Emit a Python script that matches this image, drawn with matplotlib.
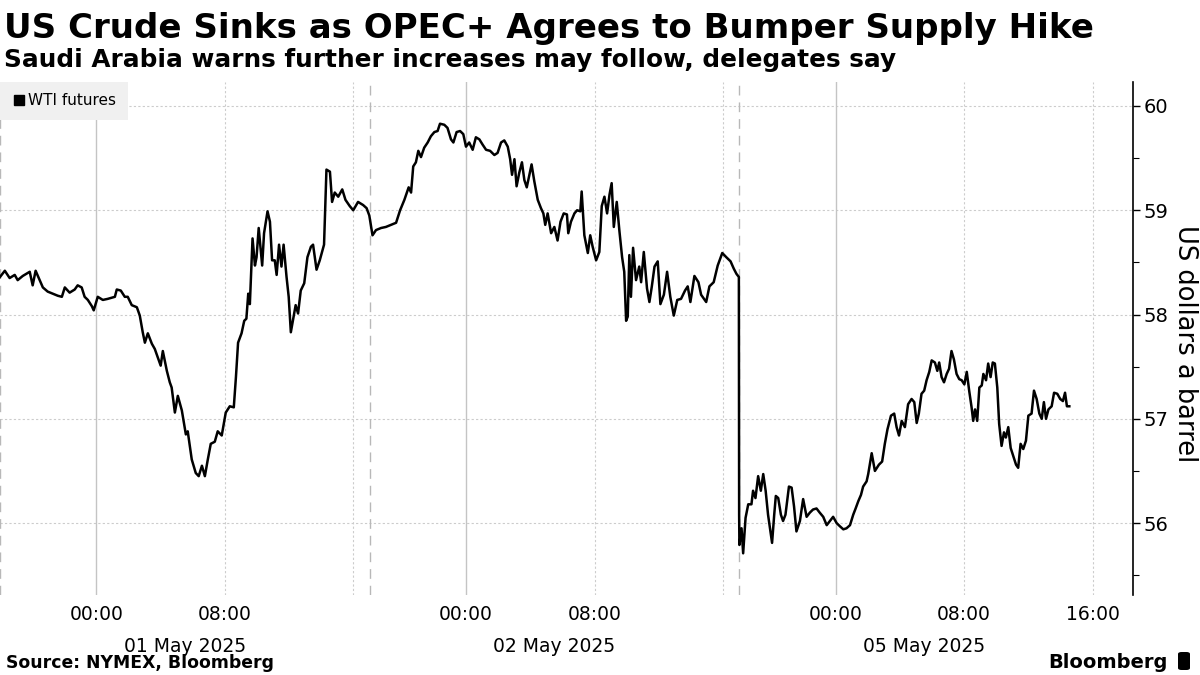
import matplotlib
matplotlib.use("Agg")
import matplotlib.pyplot as plt
from matplotlib.lines import Line2D
from matplotlib.patches import FancyBboxPatch
import matplotlib.transforms as mtransforms

plt.rcParams["font.family"] = ["DejaVu Sans"]

# WTI futures, each trading session opens 18:00 the evening before
session_dates = ["01 May 2025", "02 May 2025", "05 May 2025"]
session_hours = 23  # 18:00 -> 17:00

s1_times = ["18:00", "18:18", "18:36", "18:55", "19:06", "19:25", "19:51", "20:02", "20:13", "20:28",
            "20:40", "20:58", "21:17", "21:36", "21:51", "22:02", "22:20", "22:39", "22:50", "23:05",
            "23:16", "23:28", "23:43", "23:50", "00:05", "00:24", "00:42", "01:09", "01:16", "01:31",
            "01:46", "01:57", "02:12", "02:31", "02:42", "02:53", "03:01", "03:12", "03:27", "03:38",
            "03:49", "04:00", "04:08", "04:23", "04:34", "04:41", "04:53", "05:04", "05:19", "05:34",
            "05:41", "05:56", "06:11", "06:22", "06:34", "06:45", "06:56", "07:07", "07:22", "07:33",
            "07:48", "08:03", "08:18", "08:33", "08:41", "08:49", "09:02", "09:12", "09:20", "09:27",
            "09:33", "09:43", "09:52", "09:58", "10:06", "10:19", "10:26", "10:39", "10:48", "10:56",
            "11:06", "11:13", "11:22", "11:31", "11:39", "11:50", "11:58", "12:06", "12:15", "12:24",
            "12:33", "12:43", "12:56", "13:08", "13:21", "13:29", "13:42", "13:54", "14:10", "14:19",
            "14:32", "14:40", "14:50", "15:03", "15:18", "15:30", "15:46", "15:59", "16:17", "16:36",
            "16:49", "16:59"]
s1_prices = [58.36, 58.42, 58.35, 58.38, 58.33, 58.37, 58.41, 58.28, 58.42, 58.33,
             58.26, 58.22, 58.20, 58.18, 58.17, 58.26, 58.21, 58.24, 58.28, 58.26,
             58.17, 58.14, 58.08, 58.04, 58.17, 58.14, 58.15, 58.17, 58.24, 58.23,
             58.17, 58.17, 58.09, 58.07, 57.99, 57.83, 57.73, 57.82, 57.72, 57.67,
             57.59, 57.51, 57.65, 57.46, 57.35, 57.30, 57.06, 57.22, 57.08, 56.85,
             56.88, 56.61, 56.48, 56.45, 56.55, 56.45, 56.61, 56.76, 56.78, 56.88,
             56.84, 57.06, 57.12, 57.11, 57.40, 57.73, 57.82, 57.94, 57.96, 58.20,
             58.10, 58.73, 58.47, 58.55, 58.83, 58.47, 58.78, 58.99, 58.89, 58.52,
             58.52, 58.38, 58.67, 58.46, 58.67, 58.36, 58.17, 57.83, 57.96, 58.09,
             58.01, 58.23, 58.30, 58.55, 58.65, 58.67, 58.43, 58.52, 58.67, 59.39,
             59.37, 59.08, 59.17, 59.13, 59.20, 59.10, 59.04, 59.00, 59.08, 59.05,
             59.02, 58.95]

s2_times = ["18:11", "18:24", "18:43", "19:01", "19:20", "19:39", "19:54", "20:10", "20:26", "20:35",
            "20:43", "20:53", "21:02", "21:12", "21:24", "21:37", "21:49", "22:02", "22:14", "22:23",
            "22:39", "22:51", "23:04", "23:13", "23:25", "23:38", "23:50", "00:00", "00:12", "00:25",
            "00:37", "00:50", "01:02", "01:15", "01:30", "01:46", "01:58", "02:11", "02:23", "02:36",
            "02:45", "02:52", "03:01", "03:09", "03:19", "03:29", "03:38", "03:47", "03:57", "04:05",
            "04:15", "04:28", "04:40", "04:49", "04:56", "05:05", "05:18", "05:30", "05:42", "05:53",
            "06:05", "06:17", "06:22", "06:32", "06:45", "06:55", "07:07", "07:12", "07:22", "07:35",
            "07:44", "07:53", "08:06", "08:18", "08:27", "08:37", "08:47", "08:56", "09:04", "09:12",
            "09:23", "09:33", "09:43", "09:51", "09:58", "10:04", "10:10", "10:16", "10:24", "10:35",
            "10:47", "10:54", "11:04", "11:16", "11:25", "11:34", "11:44", "11:56", "12:06", "12:19",
            "12:31", "12:43", "12:56", "13:09", "13:23", "13:38", "13:48", "13:58", "14:13", "14:28",
            "14:38", "14:57", "15:09", "15:25", "15:40", "15:57", "16:12", "16:28", "16:40", "16:50",
            "16:59"]
s2_prices = [58.76, 58.81, 58.83, 58.84, 58.86, 58.88, 59.00, 59.10, 59.22, 59.17,
             59.42, 59.46, 59.57, 59.51, 59.60, 59.65, 59.71, 59.75, 59.76, 59.83,
             59.82, 59.79, 59.68, 59.65, 59.75, 59.76, 59.73, 59.61, 59.65, 59.58,
             59.70, 59.68, 59.63, 59.58, 59.57, 59.53, 59.55, 59.65, 59.67, 59.61,
             59.49, 59.34, 59.49, 59.23, 59.36, 59.46, 59.29, 59.22, 59.34, 59.44,
             59.28, 59.10, 59.02, 58.97, 58.86, 58.97, 58.78, 58.84, 58.71, 58.89,
             58.97, 58.96, 58.78, 58.89, 58.97, 59.00, 58.99, 59.18, 58.76, 58.59,
             58.76, 58.65, 58.52, 58.60, 59.04, 59.13, 58.97, 59.15, 59.26, 58.84,
             59.08, 58.80, 58.55, 58.41, 57.94, 57.98, 58.57, 58.17, 58.64, 58.33,
             58.46, 58.31, 58.60, 58.25, 58.12, 58.27, 58.46, 58.51, 58.10, 58.19,
             58.41, 58.17, 57.99, 58.14, 58.15, 58.23, 58.27, 58.12, 58.37, 58.31,
             58.19, 58.12, 58.27, 58.31, 58.47, 58.59, 58.55, 58.51, 58.44, 58.39,
             58.36]

s3_times = ["18:00", "18:01", "18:09", "18:15", "18:24", "18:34", "18:46", "18:52", "19:01", "19:11",
            "19:21", "19:30", "19:39", "19:48", "19:57", "20:03", "20:11", "20:17", "20:26", "20:36",
            "20:44", "20:53", "21:06", "21:16", "21:25", "21:34", "21:47", "21:59", "22:12", "22:24",
            "22:36", "22:49", "23:01", "23:14", "23:27", "23:39", "23:51", "00:04", "00:16", "00:29",
            "00:41", "00:54", "01:06", "01:15", "01:25", "01:35", "01:43", "01:56", "02:02", "02:15",
            "02:27", "02:42", "02:54", "03:04", "03:14", "03:27", "03:39", "03:48", "03:57", "04:07",
            "04:19", "04:31", "04:44", "04:54", "05:03", "05:11", "05:21", "05:31", "05:40", "05:50",
            "05:59", "06:11", "06:20", "06:27", "06:36", "06:45", "06:55", "07:04", "07:13", "07:22",
            "07:32", "07:42", "07:51", "08:01", "08:10", "08:19", "08:28", "08:34", "08:41", "08:49",
            "08:57", "09:06", "09:12", "09:22", "09:30", "09:39", "09:47", "09:55", "10:04", "10:11",
            "10:20", "10:29", "10:36", "10:45", "10:54", "11:04", "11:14", "11:22", "11:31", "11:41",
            "11:51", "12:00", "12:12", "12:21", "12:31", "12:41", "12:50", "12:58", "13:06", "13:15",
            "13:27", "13:36", "13:48", "13:59", "14:09", "14:17", "14:24", "14:33"]
s3_prices = [56.08, 55.79, 55.95, 55.71, 56.05, 56.18, 56.18, 56.31, 56.24, 56.45,
             56.31, 56.47, 56.31, 56.08, 55.92, 55.81, 56.08, 56.26, 56.24, 56.08,
             56.02, 56.08, 56.35, 56.34, 56.16, 55.92, 56.02, 56.23, 56.06, 56.10,
             56.13, 56.14, 56.10, 56.06, 55.98, 56.02, 56.06, 56.00, 55.97, 55.94,
             55.95, 55.98, 56.08, 56.14, 56.21, 56.27, 56.35, 56.40, 56.47, 56.67,
             56.50, 56.56, 56.59, 56.76, 56.90, 57.03, 57.05, 56.92, 56.84, 56.98,
             56.92, 57.14, 57.19, 57.16, 56.96, 57.05, 57.24, 57.27, 57.37, 57.45,
             57.56, 57.54, 57.46, 57.54, 57.40, 57.35, 57.43, 57.48, 57.65, 57.57,
             57.43, 57.38, 57.37, 57.33, 57.45, 57.27, 57.11, 56.98, 57.09, 56.98,
             57.30, 57.32, 57.43, 57.37, 57.53, 57.40, 57.54, 57.53, 57.30, 56.95,
             56.74, 56.87, 56.82, 56.92, 56.72, 56.64, 56.56, 56.53, 56.76, 56.71,
             56.79, 57.03, 57.05, 57.27, 57.19, 57.05, 57.00, 57.16, 57.00, 57.09,
             57.12, 57.25, 57.24, 57.19, 57.17, 57.25, 57.12, 57.12]

# clock ticks; 16:00 only labelled on the last session
tick_times = [["00:00", "08:00"], ["00:00", "08:00"], ["00:00", "08:00", "16:00"]]
grid_times = ["00:00", "08:00", "16:00"]
y_ticks = [56, 57, 58, 59, 60]


def hours_since_open(t):
    h, m = t.split(":")
    mins = int(h) * 60 + int(m) - 18 * 60
    return (mins % 1440) / 60.0


def pos(session, t):
    return session * session_hours + hours_since_open(t)


xs, ys = [], []
for i, (times, prices) in enumerate([(s1_times, s1_prices), (s2_times, s2_prices), (s3_times, s3_prices)]):
    xs += [pos(i, t) for t in times]
    ys += prices

fig = plt.figure(figsize=(12, 6.75), dpi=100)
ax = fig.add_axes([0.0, 0.1185, 0.944, 0.76])

# vertical guides
for i in range(3):
    ax.axvline(i * session_hours, color="#b8b8b8", lw=1, ls=(0, (7, 5)), zorder=1)
    for t in grid_times:
        if t == "00:00":
            ax.axvline(pos(i, t), color="#c4c4c4", lw=1, zorder=1)
        else:
            ax.axvline(pos(i, t), color="#cccccc", lw=0.8, ls=(0, (2, 2)), zorder=1)

ax.plot(xs, ys, color="black", lw=1.8, zorder=3, solid_joinstyle="round")

ax.set_xlim(0, 70.5)
ax.set_ylim(55.31, 60.23)

xt, xl = [], []
for i, ts in enumerate(tick_times):
    for t in ts:
        xt.append(pos(i, t))
        xl.append(t)
ax.set_xticks(xt)
ax.set_xticklabels(xl)
ax.tick_params(axis="x", length=0, pad=7, labelsize=13.5)

trans = mtransforms.blended_transform_factory(ax.transData, ax.transAxes)
for i, d in enumerate(session_dates):
    ax.text(i * session_hours + session_hours / 2, -0.1, d, transform=trans,
            ha="center", va="center", fontsize=13.5)

ax.yaxis.tick_right()
ax.yaxis.set_label_position("right")
ax.set_yticks(y_ticks)
ax.set_yticks([55.5, 56.5, 57.5, 58.5, 59.5], minor=True)
ax.tick_params(axis="y", which="major", length=5, width=1, pad=3, labelsize=14)
ax.tick_params(axis="y", which="minor", length=4, width=0.8)
ax.set_ylabel("US dollars a barrel", rotation=270, fontsize=18.5, labelpad=21)
ax.yaxis.label.set_y(0.49)
ax.yaxis.grid(True, color="#cccccc", ls=(0, (2, 2)), lw=0.8)
ax.set_axisbelow(True)

for side in ["top", "left", "bottom"]:
    ax.spines[side].set_visible(False)
ax.spines["right"].set_linewidth(1.2)

leg = ax.legend(handles=[Line2D([], [], marker="s", color="black", ls="none", markersize=7.5)],
                labels=["WTI futures"], loc="upper left", bbox_to_anchor=(0.0, 1.0),
                borderaxespad=0, frameon=True, fancybox=False, fontsize=11,
                handletextpad=0.1, handlelength=1.0, borderpad=0.75)
leg.get_frame().set_facecolor("#f0f0f0")
leg.get_frame().set_edgecolor("none")
leg.get_frame().set_alpha(1)

fig.text(0.003, 1 - 38 / 675, "US Crude Sinks as OPEC+ Agrees to Bumper Supply Hike",
         fontsize=24.5, fontweight="bold", va="baseline")
fig.text(0.003, 1 - 67 / 675, "Saudi Arabia warns further increases may follow, delegates say",
         fontsize=17.8, fontweight="bold", va="baseline")
fig.text(0.005, 1 - 668 / 675, "Source: NYMEX, Bloomberg", fontsize=12.4, fontweight="bold",
         va="baseline")
fig.text(1168 / 1200, 1 - 668 / 675, "Bloomberg", fontsize=14, fontweight="bold",
         va="baseline", ha="right")
fig.patches.append(FancyBboxPatch((1178 / 1200, 1 - 670 / 675), 12 / 1200, 18 / 675,
                                  boxstyle="round,pad=0,rounding_size=0.003",
                                  transform=fig.transFigure, facecolor="black",
                                  edgecolor="none"))

fig.savefig("out.png", dpi=100)
